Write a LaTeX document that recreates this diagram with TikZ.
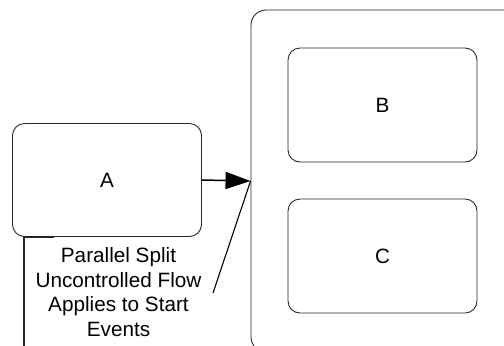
\documentclass[tikz,border=0pt]{standalone}
\usepackage{fontspec}
\setmainfont{Liberation Sans}
\usetikzlibrary{arrows.meta}
\newcommand\bigtxt{\fontsize{20.8}{24.7}\selectfont}
\tikzset{
  task/.style={draw=black!85, line width=0.9bp, rounded corners=12bp, minimum width=189bp, minimum height=113bp, inner sep=0pt, font=\bigtxt},
  container/.style={draw=black!85, line width=0.9bp, rounded corners=15bp, minimum width=269bp, minimum height=342bp, inner sep=0pt},
  flowline/.style={line width=1.5bp, -{Triangle[length=25bp,width=17bp]}},
  thinline/.style={line width=0.9bp, draw=black!85},
  note/.style={align=center, inner sep=0pt, font=\bigtxt}
}
\begin{document}
\begin{tikzpicture}[x=1bp,y=-1bp]
\useasboundingbox (0,0) rectangle (504,345);
\clip (0,0) rectangle (504,345);
\node[container] (P) at (385.5,181) {};
\node[task] (A) at (107,180) {A};
\node[task, minimum height=114bp] (B) at (382.5,105) {B};
\node[task, minimum height=114bp] (C) at (382.5,256) {C};
\node[note, anchor=north] (N) at (118.5,247.2) {Parallel Split\\Uncontrolled Flow\\Applies to Start\\Events};
\coordinate (bt) at (24,237);
\coordinate (br) at (54,237);
\coordinate (bb) at (24,350);
\draw[thinline, line width=1.1bp] (br) -- (bt) -- (bb);
\coordinate (as) at (213,293);
\draw[thinline, line width=1.1bp, draw=black] (as) -- (P.west);
\draw[flowline] (A.east) -- (P.west);
\end{tikzpicture}
\end{document}
